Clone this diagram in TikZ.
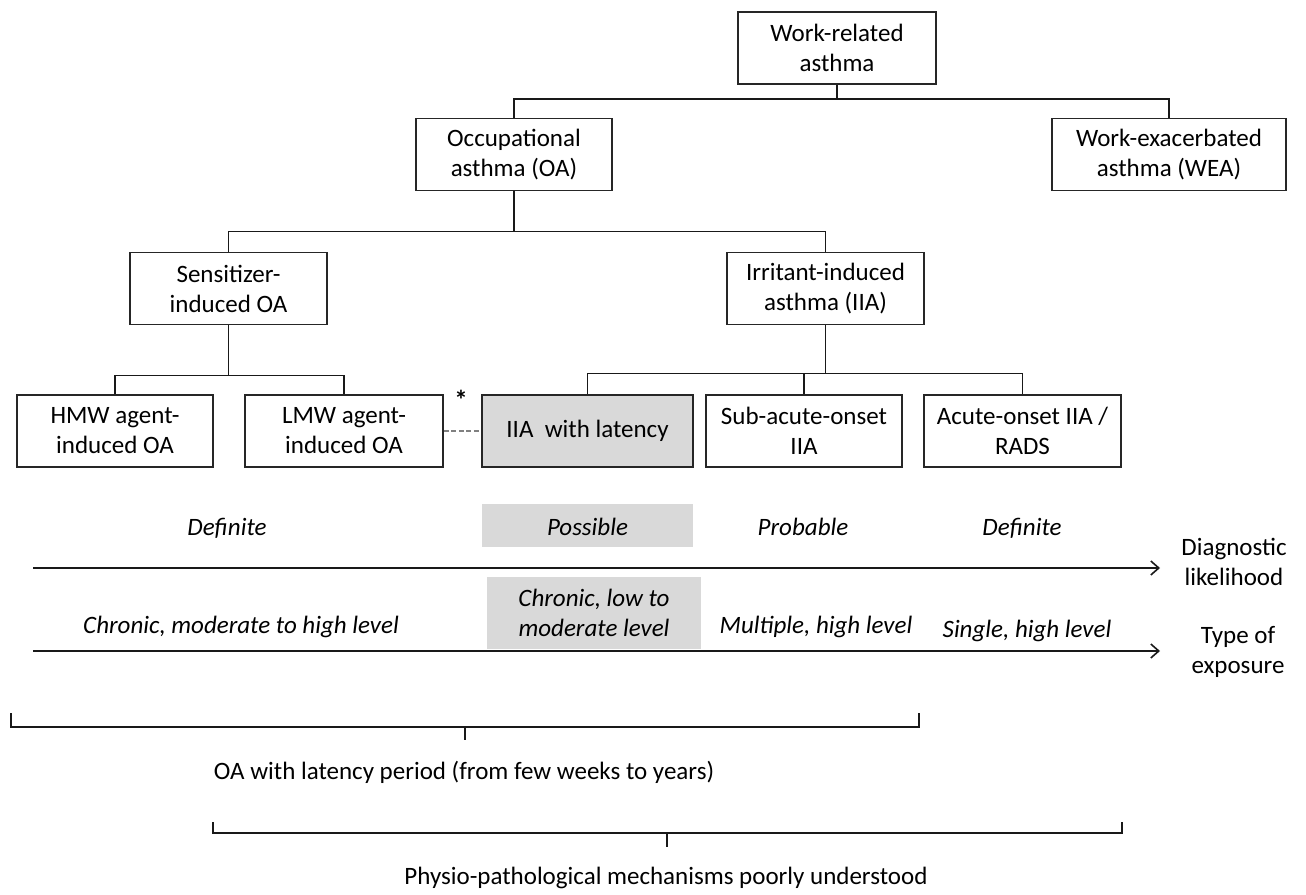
\documentclass[tikz,border=0pt]{standalone}
\usepackage{fontspec}
\setmainfont{Carlito}
\usetikzlibrary{arrows.meta}
\begin{document}
\begin{tikzpicture}[x=1pt,y=-1pt, font=\fontsize{25}{30}\selectfont,
  box/.style={draw=black!85, line width=1.6pt, inner sep=0pt, align=center, minimum height=72pt},
  link/.style={draw=black!90, line width=1.6pt},
  shadebox/.style={fill=black!15, draw=none, inner sep=0pt},
  lab/.style={align=center, inner sep=0pt, font=\fontsize{25}{30}\selectfont\itshape},
  oneline/.style={inner sep=0pt, anchor=base},
  plain/.style={align=center, inner sep=0pt},
  axis/.style={line width=1.6pt, draw=black!90, -{Straight Barb[length=8pt,width=14pt,line width=1.6pt]}}]
\useasboundingbox (0,0) rectangle (1306,894);

% boxes
\node[box, minimum width=198pt] (wra) at (837,48) {Work-related\\asthma};
\node[box, minimum width=196pt] (oa) at (514,154.5) {Occupational\\asthma (OA)};
\node[box, minimum width=234pt] (wea) at (1169,154.5) {Work-exacerbated\\asthma (WEA)};
\node[box, minimum width=197pt] (sens) at (228.5,288.5) {Sensitizer-\\induced OA};
\node[box, minimum width=197pt] (irr) at (825.5,288.5) {Irritant-induced\\asthma (IIA)};
\node[box, minimum width=196pt] (hmw) at (115,431) {HMW agent-\\induced OA};
\node[box, minimum width=198pt] (lmw) at (344,431) {LMW agent-\\induced OA};
\node[box, minimum width=211pt, fill=black!15] (lat) at (587.5,431) {IIA\ \ with latency};
\node[box, minimum width=196pt] (sub) at (804,431) {Sub-acute-onset\\IIA};
\node[box, minimum width=197pt] (acu) at (1022.5,431) {Acute-onset IIA /\\RADS};

% tree connectors
\draw[link] (wra.south) -- ++(0,14) coordinate (j1);
\draw[link] (oa.north) |- (j1);
\draw[link] (wea.north) |- (j1);
\draw[link] (oa.south) -- ++(0,40) coordinate (j2);
\draw[link] (sens.north) |- (j2);
\draw[link] (irr.north) |- (j2);
\draw[link] (sens.south) -- ++(0,50) coordinate (j3);
\draw[link] (hmw.north) |- (j3);
\draw[link] (lmw.north) |- (j3);
\draw[link] (irr.south) -- ++(0,48) coordinate (j4);
\draw[link] (lat.north) |- (j4);
\draw[link] (sub.north) |- (j4);
\draw[link] (acu.north) |- (j4);

% dashed link and asterisk
\draw[dash pattern=on 5pt off 2.5pt, draw=black!50, line width=1.8pt] (lmw.east) -- (lat.west);
\node[plain, font=\fontsize{27}{30}\selectfont\bfseries] (star) at (461,400) {*};

% diagnostic likelihood row
\node[shadebox, minimum width=211pt, minimum height=43pt] (possbg) at (587.5,525.5) {};
\node[oneline, lab] (poss) at (587.5,535) {Possible};
\node[oneline, lab] (def1) at (227,535) {Definite};
\node[oneline, lab] (prob) at (803,535) {Probable};
\node[oneline, lab] (def2) at (1022,535) {Definite};
\coordinate (a1s) at (33,568);
\coordinate (a1e) at (1160,568);
\draw[axis] (a1s) -- (a1e);
\node[plain] (diag) at (1234,562) {Diagnostic\\likelihood};

% type of exposure row
\node[shadebox, lab, minimum width=214pt, minimum height=72pt] (chlow) at (594,613) {Chronic, low to\\moderate level};
\node[oneline, lab] (chmod) at (241,633) {Chronic, moderate to high level};
\node[oneline, lab] (mult) at (816,633) {Multiple, high level};
\node[oneline, lab] (single) at (1027,637) {Single, high level};
\coordinate (a2s) at (33,651);
\coordinate (a2e) at (1160,651);
\draw[axis] (a2s) -- (a2e);
\node[plain] (type) at (1238,652) {Type of\\exposure};

% brackets
\coordinate (b1l) at (11,713);
\coordinate (b1r) at (919,713);
\coordinate (b1t) at (465,727);
\draw[link] (b1l) -- (11,727) -- (919,727) -- (b1r);
\draw[link] (b1t) -- ++(0,13);
\node[plain] (latency) at (464,772) {OA with latency period (from few weeks to years)};
\coordinate (b2l) at (213,822);
\coordinate (b2r) at (1122,822);
\coordinate (b2t) at (667,833);
\draw[link] (b2l) -- (213,833) -- (1122,833) -- (b2r);
\draw[link] (b2t) -- ++(0,14);
\node[plain] (phys) at (666,878) {Physio-pathological mechanisms poorly understood};
\end{tikzpicture}
\end{document}
